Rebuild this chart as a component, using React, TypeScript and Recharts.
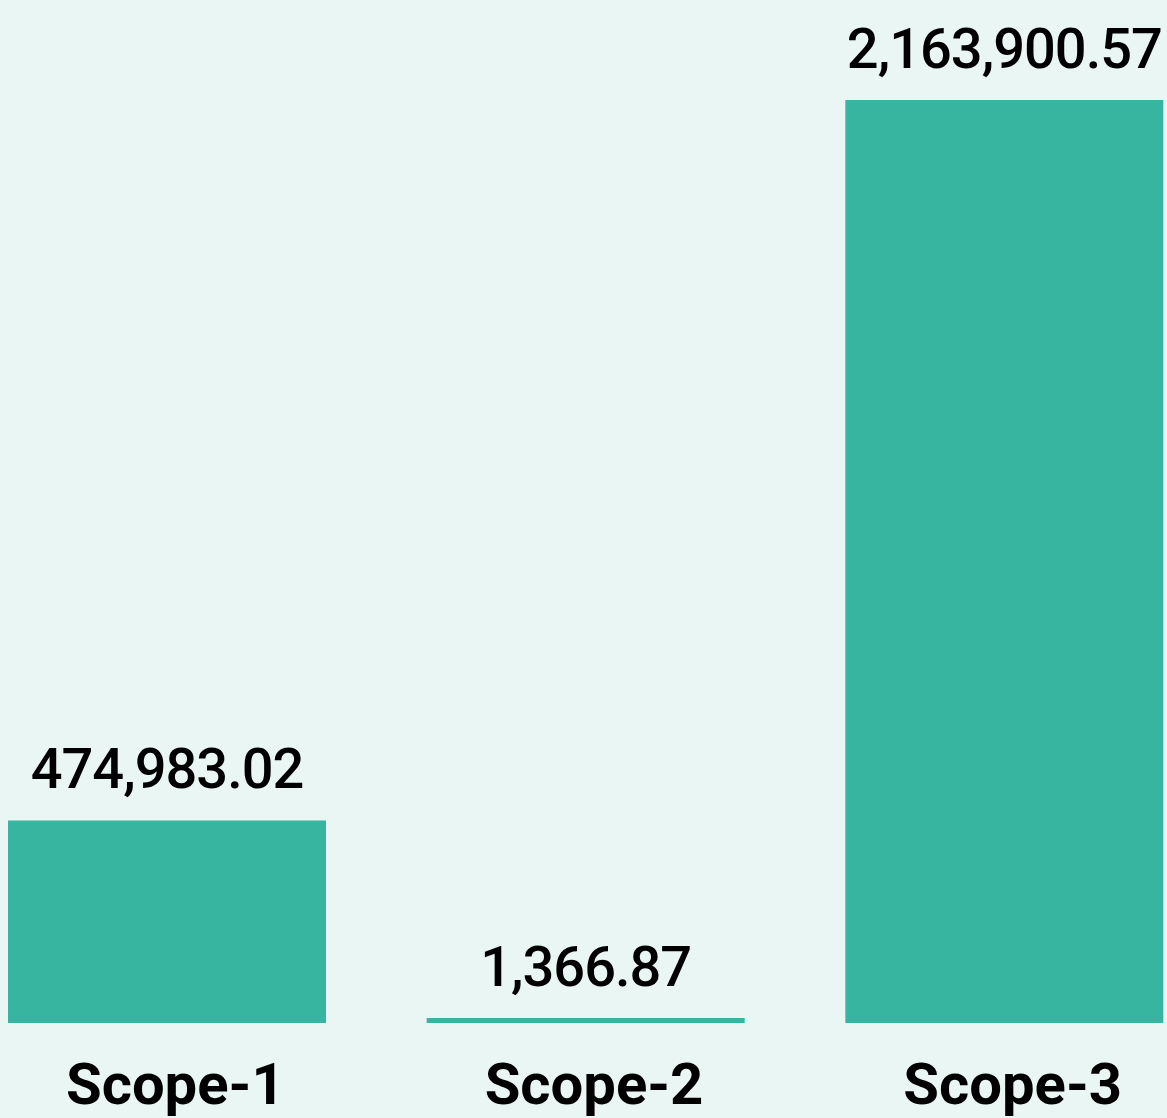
import { Bar, BarChart, LabelList, XAxis, YAxis } from "recharts";

const scopes = ["Scope-1", "Scope-2", "Scope-3"];
const emissions = [474983.02, 1366.87, 2163900.57];

const BACKGROUND = "#eaf6f3";
const BAR_COLOR = "#38b5a0";

const chartData = scopes.map((scope, index) => ({
  scope,
  value: emissions[index],
}));

function formatValue(value: number | string): string {
  return Number(value).toLocaleString("en-US", {
    minimumFractionDigits: 2,
    maximumFractionDigits: 2,
  });
}

if (typeof document !== "undefined") {
  document.body.style.background = BACKGROUND;
}

export default function App() {
  return (
    <div
      style={{
        position: "fixed",
        left: 0,
        top: 0,
        width: 1167,
        height: 1118,
        overflow: "hidden",
        background: BACKGROUND,
      }}
    >
      <div style={{ marginLeft: -42 }}>
        <BarChart
          width={1256}
          height={1118}
          data={chartData}
          barSize={318}
          margin={{ top: 100, right: 0, left: 0, bottom: 0 }}
        >
          <XAxis
            dataKey="scope"
            axisLine={false}
            tickLine={false}
            tickSize={0}
            tickMargin={40}
            height={95}
            interval={0}
            tick={{
              fill: "#000",
              fontSize: 58,
              fontWeight: 700,
              fontFamily: "Roboto, sans-serif",
              dx: 8,
            }}
          />
          <YAxis hide domain={[0, "dataMax"]} />
          <Bar
            dataKey="value"
            fill={BAR_COLOR}
            minPointSize={5}
            isAnimationActive={false}
          >
            <LabelList
              dataKey="value"
              position="top"
              offset={32}
              formatter={formatValue}
              fill="#000"
              fontSize={56}
              fontWeight={500}
              letterSpacing={-1}
              fontFamily="Roboto, sans-serif"
            />
          </Bar>
        </BarChart>
      </div>
    </div>
  );
}
